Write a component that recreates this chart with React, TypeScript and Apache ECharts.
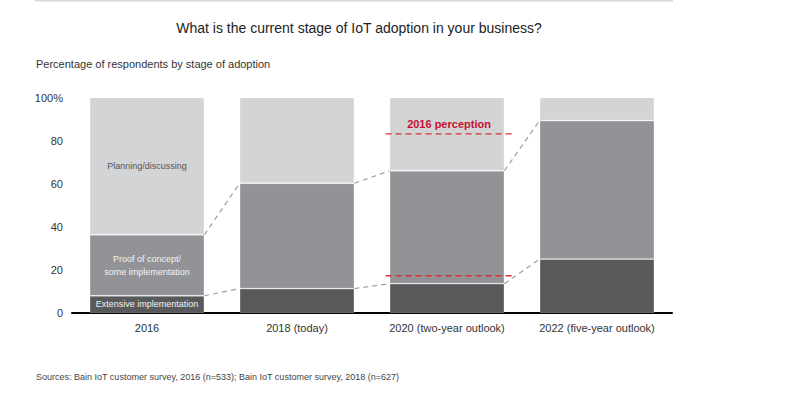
import React, { useEffect, useRef } from "react";
import * as echarts from "echarts";

const categories = ["2016", "2018 (today)", "2020 (two-year outlook)", "2022 (five-year outlook)"];
const extensive = [8, 11.3, 13.6, 25];
const proofOfConcept = [28.3, 48.9, 52.4, 64.3];
const planning = [63.7, 39.8, 34, 10.7];
const segmentLabels = ["Extensive implementation", "Proof of concept/\nsome implementation", "Planning/discussing"];
const perceptionLevels = [17.3, 83.1];
const perceptionIndex = 2;
const perceptionLabel = "2016 perception";
const yTicks = [0, 20, 40, 60, 80, 100];

const TITLE = "What is the current stage of IoT adoption in your business?";
const SUBTITLE = "Percentage of respondents by stage of adoption";
const SOURCE = "Sources: Bain IoT customer survey, 2016 (n=533); Bain IoT customer survey, 2018 (n=627)";

const FONT = "Liberation Sans, Arial, sans-serif";
const BAR_RATIO = 0.765;

export default function App() {
  const ref = useRef<HTMLDivElement>(null);

  useEffect(() => {
    if (!ref.current) return;
    const chart = echarts.init(ref.current, undefined, { renderer: "svg" });

    const lowerBoundary = extensive.slice();
    const upperBoundary = extensive.map((v, i) => v + proofOfConcept[i]);

    const labelFor = (idx: number, color: string) => ({
      show: true,
      position: "inside",
      formatter: segmentLabels[idx],
      color,
      fontSize: 9,
      fontFamily: FONT,
      lineHeight: 13,
    });

    const mk = (arr: number[], idx: number, color: string) =>
      arr.map((v, i) => (i === 0 ? { value: v, label: labelFor(idx, color) } : v));

    const option: any = {
      animation: false,
      backgroundColor: "#ffffff",
      textStyle: { fontFamily: FONT },
      grid: { left: 72, right: 128, top: 97.5, bottom: 83, containLabel: false },
      graphic: [
        { type: "line", shape: { x1: 35, y1: 0.5, x2: 673, y2: 0.5 }, style: { stroke: "#d9d9d9", lineWidth: 2 } },
        {
          type: "text", x: 359, y: 28,
          style: { text: TITLE, fill: "#222", font: `14px ${FONT}`, textAlign: "center", textVerticalAlign: "middle" },
        },
        {
          type: "text", x: 36, y: 64,
          style: { text: SUBTITLE, fill: "#333", font: `11px ${FONT}`, textAlign: "left", textVerticalAlign: "middle" },
        },
        {
          type: "text", x: 36, y: 377,
          style: { text: SOURCE, fill: "#444", font: `9px ${FONT}`, textAlign: "left", textVerticalAlign: "middle" },
        },
      ],
      xAxis: {
        type: "category",
        data: categories,
        axisLine: { lineStyle: { color: "#000", width: 2 } },
        axisTick: { show: false },
        axisLabel: { color: "#333", fontSize: 11, fontFamily: FONT, margin: 9, interval: 0 },
      },
      yAxis: {
        type: "value",
        min: 0,
        max: 100,
        interval: 20,
        axisLine: { show: false },
        axisTick: { show: false },
        splitLine: { show: false },
        axisLabel: {
          color: "#333",
          fontSize: 11,
          fontFamily: FONT,
          margin: 9,
          formatter: (v: number) => (v === yTicks[yTicks.length - 1] ? `${v}%` : `${v}`),
        },
      },
      series: [
        {
          type: "bar", stack: "total", barWidth: `${BAR_RATIO * 100}%`,
          itemStyle: { color: "#58595b", borderColor: "rgba(255,255,255,0.35)", borderWidth: 0.8 },
          data: mk(extensive, 0, "#f2f2f2"),
        },
        {
          type: "bar", stack: "total", barWidth: `${BAR_RATIO * 100}%`,
          itemStyle: { color: "#929396", borderColor: "rgba(255,255,255,0.35)", borderWidth: 0.8 },
          data: mk(proofOfConcept, 1, "#f2f2f2"),
        },
        {
          type: "bar", stack: "total", barWidth: `${BAR_RATIO * 100}%`,
          itemStyle: { color: "#d3d4d6", borderColor: "rgba(255,255,255,0.35)", borderWidth: 0.8 },
          data: mk(planning, 2, "#555"),
        },
        {
          type: "custom",
          z: 5,
          silent: true,
          data: categories.slice(0, -1).map((_, i) => [i, 0]),
          encode: { x: 0, y: 1 },
          renderItem: (params: any, api: any) => {
            const i = api.value(0);
            const bw = api.size([1, 0])[0] * BAR_RATIO;
            const children: any[] = [];
            [lowerBoundary, upperBoundary].forEach((b) => {
              const p1 = api.coord([i, b[i]]);
              const p2 = api.coord([i + 1, b[i + 1]]);
              children.push({
                type: "line",
                shape: { x1: p1[0] + bw / 2, y1: p1[1], x2: p2[0] - bw / 2, y2: p2[1] },
                style: { stroke: "#a0a0a0", lineWidth: 1.2, lineDash: [5, 4] },
              });
            });
            return { type: "group", children };
          },
        },
        {
          type: "custom",
          z: 6,
          silent: true,
          data: perceptionLevels.map((v) => [perceptionIndex, v]),
          encode: { x: 0, y: 1 },
          renderItem: (params: any, api: any) => {
            const i = api.value(0);
            const v = api.value(1);
            const bw = api.size([1, 0])[0] * BAR_RATIO;
            const p = api.coord([i, v]);
            const children: any[] = [
              {
                type: "line",
                shape: { x1: p[0] - bw / 2 - 4, y1: p[1], x2: p[0] + bw / 2 + 8, y2: p[1] },
                style: { stroke: "#d6332f", lineWidth: 1.4, lineDash: [6, 4] },
              },
            ];
            if (v === Math.max(...perceptionLevels)) {
              children.push({
                type: "text",
                x: p[0] + 2,
                y: p[1] - 10,
                style: {
                  text: perceptionLabel,
                  fill: "#c8102e",
                  font: `bold 11px ${FONT}`,
                  textAlign: "center",
                  textVerticalAlign: "middle",
                },
              });
            }
            return { type: "group", children };
          },
        },
      ],
    };

    chart.setOption(option);
    return () => chart.dispose();
  }, []);

  return (
    <div
      ref={ref}
      style={{ position: "absolute", left: 0, top: 0, width: 800, height: 396, background: "#fff" }}
    />
  );
}
